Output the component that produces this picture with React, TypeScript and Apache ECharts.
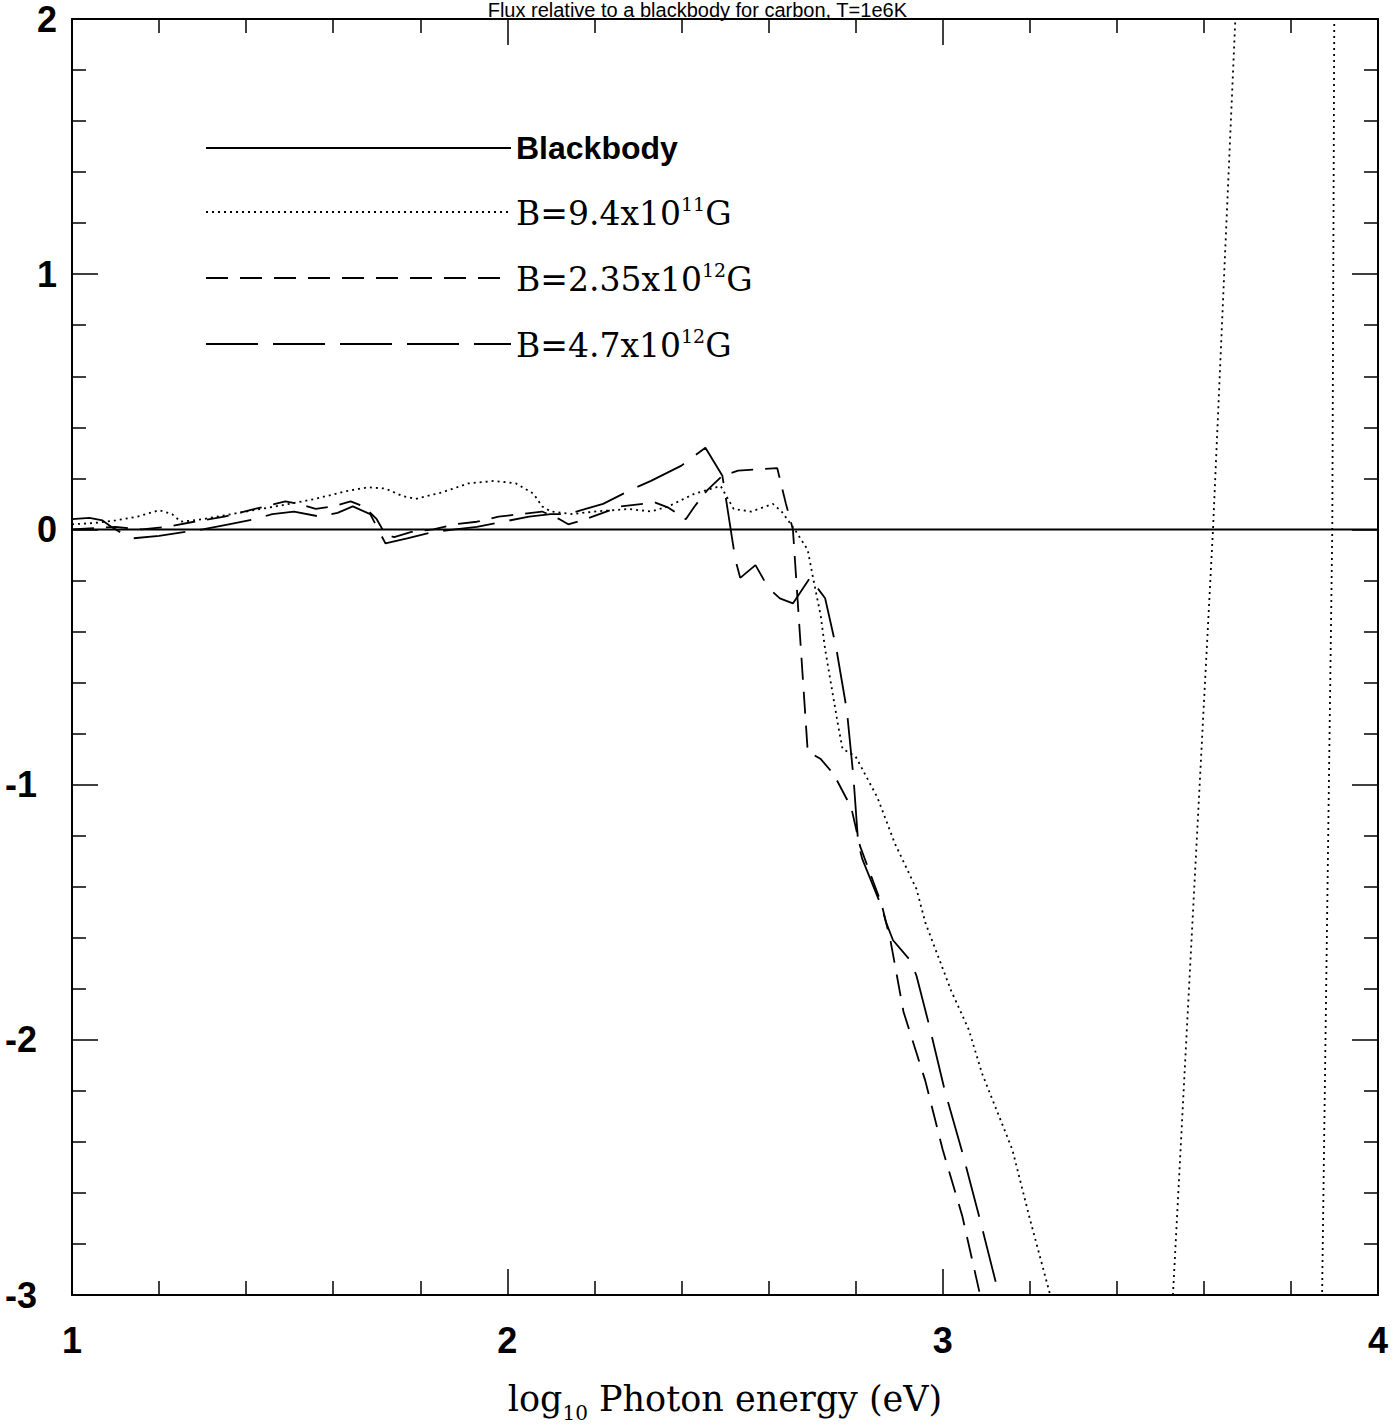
import React, { useEffect, useRef } from "react";
import * as echarts from "echarts";

// Plot title and axis ranges
const TITLE = "Flux relative to a blackbody for carbon, T=1e6K";
const X_MIN = 1;
const X_MAX = 4;
const Y_MIN = -3;
const Y_MAX = 2;

// Series names (legend order)
const NAMES = ["Blackbody", "B=9.4x10^11G", "B=2.35x10^12G", "B=4.7x10^12G"];

// Reference blackbody: ratio 0 in log space
const blackbody: [number, number][] = [
  [1, 0],
  [4, 0],
];

// B = 9.4e11 G  (log10 photon energy, log flux ratio); '-' breaks the line
const fieldLow: [number, number | string][] = [
  [1.0, 0.02], [1.05, 0.025], [1.1, 0.035], [1.15, 0.05], [1.2, 0.075], [1.23, 0.06],
  [1.25, 0.03], [1.3, 0.04], [1.4, 0.07], [1.5, 0.1], [1.56, 0.12], [1.63, 0.15],
  [1.68, 0.165], [1.72, 0.16], [1.76, 0.13], [1.79, 0.12], [1.85, 0.145], [1.91, 0.18],
  [1.97, 0.19], [2.02, 0.18], [2.06, 0.14], [2.08, 0.09], [2.1, 0.07], [2.15, 0.06],
  [2.2, 0.07], [2.28, 0.08], [2.33, 0.07], [2.37, 0.09], [2.43, 0.14], [2.49, 0.17],
  [2.52, 0.08], [2.56, 0.07], [2.61, 0.1], [2.63, 0.07], [2.66, 0.0], [2.69, -0.08],
  [2.7, -0.17], [2.72, -0.34], [2.73, -0.47], [2.76, -0.77], [2.77, -0.86], [2.8, -0.89],
  [2.85, -1.05], [2.89, -1.23], [2.94, -1.41], [2.96, -1.54], [3.02, -1.81], [3.06, -1.96],
  [3.09, -2.13], [3.16, -2.43], [3.2, -2.7], [3.247, -3.0], [3.32, -3.6], [3.5, -3.95],
  [3.529, -3.0], [3.621, 0.0], [3.68, 2.3], [3.78, "-"], [3.87, -3.2], [3.895, 0.0],
  [3.9, 2.2],
];

// B = 2.35e12 G
const fieldMid: [number, number][] = [
  [1.0, 0.0], [1.05, 0.005], [1.1, 0.01], [1.16, 0.0], [1.22, 0.01], [1.28, 0.03],
  [1.35, 0.05], [1.42, 0.08], [1.49, 0.11], [1.52, 0.1], [1.56, 0.08], [1.6, 0.09],
  [1.64, 0.11], [1.67, 0.09], [1.7, 0.04], [1.72, -0.02], [1.74, -0.03], [1.78, -0.01],
  [1.83, 0.0], [1.88, 0.02], [1.93, 0.03], [1.98, 0.05], [2.03, 0.06], [2.08, 0.07],
  [2.12, 0.04], [2.14, 0.02], [2.18, 0.04], [2.26, 0.09], [2.34, 0.105], [2.37, 0.085],
  [2.41, 0.04], [2.43, 0.09], [2.46, 0.155], [2.494, 0.21], [2.53, 0.23], [2.57, 0.235],
  [2.62, 0.24], [2.64, 0.1], [2.656, 0.0], [2.69, -0.87], [2.72, -0.9], [2.75, -0.96],
  [2.79, -1.09], [2.81, -1.24], [2.86, -1.47], [2.88, -1.61], [2.91, -1.89], [2.96, -2.16],
  [3.0, -2.43], [3.045, -2.69], [3.086, -3.0],
];

// B = 4.7e12 G
const fieldHigh: [number, number][] = [
  [1.0, 0.04], [1.04, 0.045], [1.07, 0.035], [1.09, 0.01], [1.12, -0.02], [1.14, -0.035],
  [1.2, -0.025], [1.26, -0.01], [1.3, 0.0], [1.36, 0.02], [1.42, 0.04], [1.46, 0.06],
  [1.51, 0.07], [1.57, 0.05], [1.61, 0.065], [1.645, 0.09], [1.685, 0.06], [1.72, -0.055],
  [1.77, -0.035], [1.83, -0.01], [1.88, 0.0], [1.93, 0.01], [1.99, 0.03], [2.05, 0.05],
  [2.1, 0.06], [2.14, 0.06], [2.18, 0.08], [2.22, 0.1], [2.29, 0.16], [2.33, 0.19],
  [2.4, 0.25], [2.455, 0.32], [2.494, 0.21], [2.524, -0.12], [2.535, -0.19], [2.57, -0.14],
  [2.6, -0.23], [2.626, -0.27], [2.656, -0.29], [2.695, -0.19], [2.73, -0.27], [2.755, -0.46],
  [2.78, -0.71], [2.795, -0.97], [2.806, -1.23], [2.815, -1.29], [2.86, -1.48], [2.87, -1.54],
  [2.886, -1.61], [2.926, -1.69], [2.94, -1.75], [2.97, -1.95], [3.005, -2.2], [3.045, -2.44],
  [3.085, -2.7], [3.122, -2.95], [3.132, -3.0],
];

// Legend labels as rich text (superscript exponents)
const LEGEND_RICH: Record<string, string> = {
  "Blackbody": "{bb|Blackbody}",
  "B=9.4x10^11G": "{t|B=9.4x10}{sup|11}{t|G}",
  "B=2.35x10^12G": "{t|B=2.35x10}{sup|12}{t|G}",
  "B=4.7x10^12G": "{t|B=4.7x10}{sup|12}{t|G}",
};

const SANS = "'Liberation Sans', Arial, Helvetica, sans-serif";
const SERIF = "'DejaVu Serif', 'Liberation Serif', serif";
const INK = "#000";

function buildOption(): echarts.EChartsOption {
  const tickCommon = {
    axisLine: { show: true, onZero: false, lineStyle: { color: INK, width: 2 } },
    axisTick: { show: true, inside: true, length: 26, lineStyle: { color: INK, width: 1.5 } },
    minorTick: { show: true, splitNumber: 5, length: 14, lineStyle: { color: INK, width: 1.5 } },
    splitLine: { show: false },
    minorSplitLine: { show: false },
  };

  const line = (name: string, data: any[], type: any, width = 1.8) => ({
    name,
    type: "line" as const,
    data,
    symbol: "none",
    showSymbol: false,
    xAxisIndex: 0,
    yAxisIndex: 0,
    clip: true,
    silent: true,
    itemStyle: { color: INK },
    lineStyle: { color: INK, width, type },
    emphasis: { disabled: true },
  });

  const labelFont = { fontFamily: SANS, fontSize: 36, fontWeight: "bold", color: INK };

  return {
    animation: false,
    backgroundColor: "#fff",
    color: [INK],
    grid: { left: 72, right: 17, top: 19, bottom: 112, containLabel: false },
    graphic: [
      {
        type: "text",
        left: "center",
        top: 0,
        style: {
          text: TITLE,
          font: `20px ${SANS}`,
          fill: INK,
        },
        silent: true,
      },
    ],
    legend: {
      orient: "vertical",
      left: 205,
      top: 132,
      padding: 0,
      itemWidth: 305,
      itemHeight: 20,
      itemGap: 30,
      selectedMode: false,
      data: NAMES,
      itemStyle: { opacity: 0 },
      formatter: (name: string) => LEGEND_RICH[name] ?? name,
      textStyle: {
        color: INK,
        rich: {
          bb: { fontFamily: SANS, fontSize: 32, fontWeight: "bold", color: INK, lineHeight: 36 },
          t: { fontFamily: SERIF, fontSize: 33, color: INK, lineHeight: 36, verticalAlign: "bottom" },
          sup: { fontFamily: SERIF, fontSize: 19, color: INK, lineHeight: 19, verticalAlign: "top" },
        },
      },
    },
    xAxis: [
      {
        type: "value",
        min: X_MIN,
        max: X_MAX,
        interval: 1,
        position: "bottom",
        ...tickCommon,
        axisLabel: { show: true, ...labelFont, margin: 27 },
        name: "{a|log}{sub|10}{a| Photon energy (eV)}",
        nameLocation: "middle",
        nameGap: 86,
        nameTextStyle: {
          color: INK,
          rich: {
            a: { fontFamily: SERIF, fontSize: 35, color: INK, lineHeight: 42, verticalAlign: "top" },
            sub: { fontFamily: SERIF, fontSize: 20, color: INK, lineHeight: 34, verticalAlign: "bottom" },
          },
        },
      },
      {
        type: "value",
        min: X_MIN,
        max: X_MAX,
        interval: 1,
        position: "top",
        ...tickCommon,
        axisLabel: { show: false },
      },
    ],
    yAxis: [
      {
        type: "value",
        min: Y_MIN,
        max: Y_MAX,
        interval: 1,
        position: "left",
        ...tickCommon,
        axisLabel: {
          show: true,
          margin: 15,
          formatter: (v: number) => (v < 0 ? `{neg|${v}}` : `{pos|${v}}`),
          rich: {
            pos: { ...labelFont },
            neg: { ...labelFont, padding: [0, 20, 0, 0] },
          },
        },
      },
      {
        type: "value",
        min: Y_MIN,
        max: Y_MAX,
        interval: 1,
        position: "right",
        ...tickCommon,
        axisLabel: { show: false },
      },
    ],
    series: [
      line(NAMES[0], blackbody, "solid", 2),
      line(NAMES[1], fieldLow, [2, 4], 1.8),
      line(NAMES[2], fieldMid, [22, 12], 1.8),
      line(NAMES[3], fieldHigh, [52, 15], 1.8),
    ],
  } as any;
}

export default function App() {
  const ref = useRef<HTMLDivElement>(null);

  useEffect(() => {
    document.body.style.margin = "0";
    if (!ref.current) return;
    const chart = echarts.init(ref.current, undefined, { renderer: "svg" });
    chart.setOption(buildOption());
    return () => chart.dispose();
  }, []);

  return <div ref={ref} style={{ width: 1395, height: 1428, background: "#fff" }} />;
}
